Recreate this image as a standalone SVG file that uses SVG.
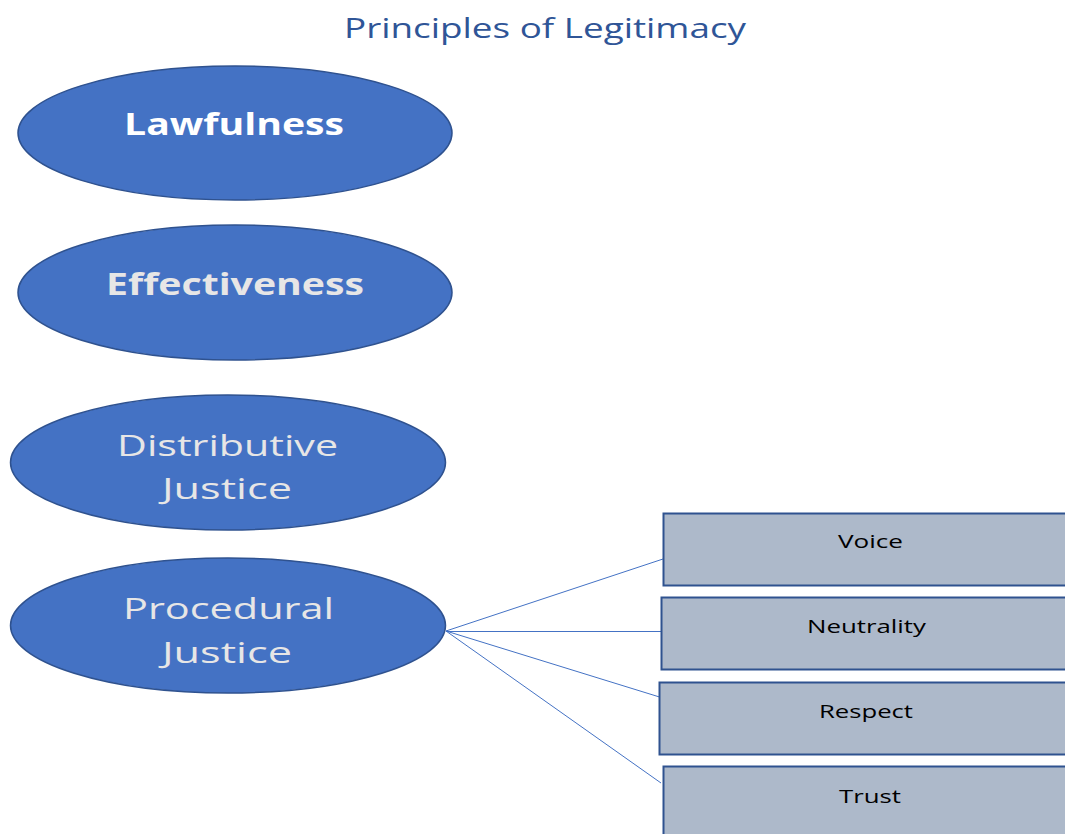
<svg xmlns="http://www.w3.org/2000/svg" width="1065" height="834" viewBox="0 0 1065 834">
  <style>
    .bg { fill: #ffffff; }
    .title { font-family: "Open Sans", "Liberation Sans", sans-serif; font-size: 28px; fill: #2F5597; text-anchor: middle; }
    .oval { fill: #4472C4; stroke: #2F528F; stroke-width: 1.5; }
    .oval-text { font-family: "Open Sans", "Liberation Sans", sans-serif; font-size: 30px; fill: #E7E6E6; text-anchor: middle; }
    .bold { font-weight: bold; }
    .white { fill: #ffffff; }
    .box { fill: #ADB9CA; stroke: #2F528F; stroke-width: 2; }
    .box-text { font-family: "Open Sans", "Liberation Sans", sans-serif; font-size: 18px; fill: #000000; text-anchor: middle; }
    .link { stroke: #4472C4; stroke-width: 1; fill: none; }
  </style>

  <rect class="bg" x="0" y="0" width="1065" height="834"/>

  <text class="title" x="545" y="38" textLength="402" lengthAdjust="spacingAndGlyphs">Principles of Legitimacy</text>

  <!-- connectors from Procedural Justice to its four elements -->
  <g id="connectors">
    <line class="link" x1="446" y1="631" x2="663" y2="559"/>
    <line class="link" x1="446" y1="631.5" x2="662" y2="631.5"/>
    <line class="link" x1="446" y1="631" x2="666" y2="699"/>
    <line class="link" x1="446" y1="631" x2="661" y2="783"/>
  </g>

  <g id="lawfulness">
    <ellipse class="oval" cx="235" cy="133" rx="217" ry="67"/>
    <text class="oval-text bold white" x="234" y="135" textLength="220" lengthAdjust="spacingAndGlyphs">Lawfulness</text>
  </g>

  <g id="effectiveness">
    <ellipse class="oval" cx="235" cy="292.5" rx="217" ry="67.5"/>
    <text class="oval-text bold" x="235" y="295" textLength="258" lengthAdjust="spacingAndGlyphs">Effectiveness</text>
  </g>

  <g id="distributive-justice">
    <ellipse class="oval" cx="228" cy="462.5" rx="217.5" ry="67.5"/>
    <text class="oval-text" x="227.5" y="456" textLength="221" lengthAdjust="spacingAndGlyphs">Distributive</text>
    <text class="oval-text" x="227" y="499" textLength="130" lengthAdjust="spacingAndGlyphs">Justice</text>
  </g>

  <g id="procedural-justice">
    <ellipse class="oval" cx="228" cy="625.5" rx="217.5" ry="67.5"/>
    <text class="oval-text" x="228.5" y="619" textLength="211" lengthAdjust="spacingAndGlyphs">Procedural</text>
    <text class="oval-text" x="227" y="663" textLength="130" lengthAdjust="spacingAndGlyphs">Justice</text>
  </g>

  <g id="voice">
    <rect class="box" x="663.5" y="513.5" width="420" height="72"/>
    <text class="box-text" x="870.5" y="548" textLength="65" lengthAdjust="spacingAndGlyphs">Voice</text>
  </g>

  <g id="neutrality">
    <rect class="box" x="661.5" y="597.5" width="420" height="72"/>
    <text class="box-text" x="866.5" y="633" textLength="119" lengthAdjust="spacingAndGlyphs">Neutrality</text>
  </g>

  <g id="respect">
    <rect class="box" x="659.5" y="682.5" width="420" height="72"/>
    <text class="box-text" x="866" y="718" textLength="94" lengthAdjust="spacingAndGlyphs">Respect</text>
  </g>

  <g id="trust">
    <rect class="box" x="663.5" y="766.5" width="420" height="80"/>
    <text class="box-text" x="870" y="803" textLength="62" lengthAdjust="spacingAndGlyphs">Trust</text>
  </g>
</svg>
